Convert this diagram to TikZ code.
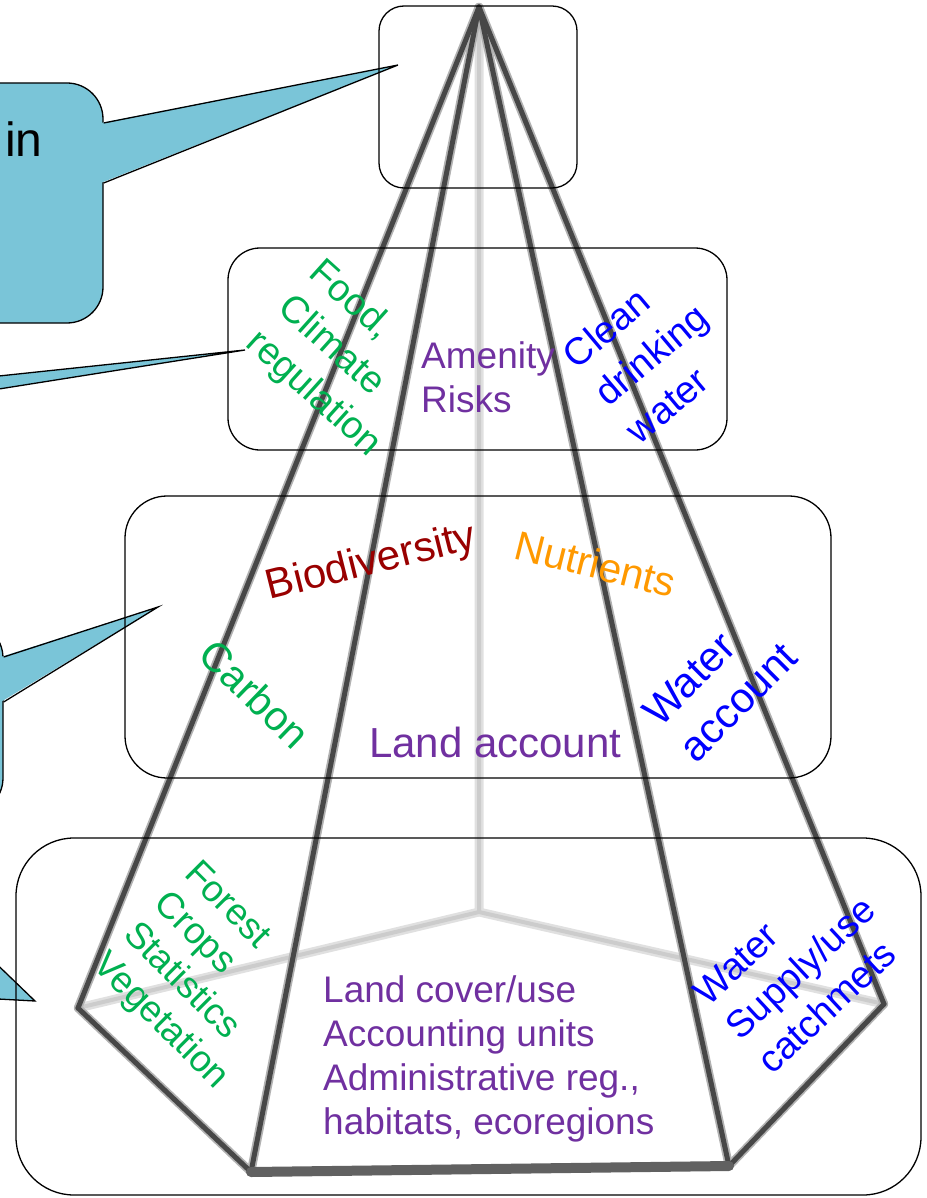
\documentclass[tikz,border=0pt]{standalone}
\usepackage{fontspec}
\setmainfont{Liberation Sans}
\usepackage{xcolor}
\definecolor{calloutblue}{HTML}{7AC5D8}
\definecolor{acgreen}{HTML}{00B050}
\definecolor{acpurple}{HTML}{7030A0}
\definecolor{acblue}{HTML}{0000FF}
\definecolor{acred}{HTML}{990000}
\definecolor{acorange}{HTML}{FF9900}
\newcommand{\acfont}[2]{\fontsize{#1}{#2}\selectfont}

\begin{document}
\begin{tikzpicture}[x=1pt, y=-1pt,
    levelbox/.style={draw=black, line width=1.3pt, rounded corners=#1, inner sep=0pt},
    calloutbox/.style={draw=black, fill=calloutblue, line width=1.3pt, rounded corners=36pt, inner sep=0pt},
    calloutedge/.style={draw=black, line width=1.3pt},
    pyrhalo/.style={line width=8.5pt, draw=black!30, line cap=round},
    pyredge/.style={line width=5pt, draw=black!72, line cap=round},
    pyrhidden/.style={line width=9pt, draw=black!12},
    pyrhiddencore/.style={line width=4pt, draw=black!20},
    lbl/.style={font=\acfont{36}{44}, inner sep=0pt, align=left}]
    \useasboundingbox (0,0) rectangle (926,1198);
    \clip (0,0) rectangle (926,1198);

    % pyramid
    \coordinate (apex) at (479,7);
    \coordinate (baseL) at (78,1008);
    \coordinate (baseFL) at (251,1172);
    \coordinate (baseFR) at (729,1166);
    \coordinate (baseR) at (884,1004);
    \coordinate (baseB) at (479,912);

    \draw[pyrhidden] (apex) -- (baseB) (baseL) -- (baseB) -- (baseR);
    \draw[pyrhiddencore] (apex) -- (baseB) (baseL) -- (baseB) -- (baseR);
    \foreach \v in {baseL, baseFL, baseFR, baseR}
        \draw[pyrhalo] (apex) -- (\v);
    \draw[pyrhalo] (baseL) -- (baseFL) -- (baseFR) -- (baseR);
    \foreach \v in {baseL, baseFL, baseFR, baseR}
        \draw[pyredge] (apex) -- (\v);
    \draw[pyredge] (baseL) -- (baseFL) (baseFR) -- (baseR);
    \draw[pyredge, line width=10pt, draw=black!62] (baseFL) -- (baseFR);

    % callouts
    \coordinate (tipA) at (398,65);
    \coordinate (tipB) at (245,350);
    \coordinate (tipC) at (158,607);
    \coordinate (tipD) at (35,1001);

    \node[calloutbox, minimum width=163pt, minimum height=240pt] (calloutA) at (21.5,203) {};
    \fill[calloutblue] ([xshift=-3pt, yshift=80pt]calloutA.east) -- (tipA) -- ([xshift=-3pt, yshift=20pt]calloutA.east) -- cycle;
    \draw[calloutedge] ([yshift=80pt]calloutA.east) -- (tipA) -- ([yshift=20pt]calloutA.east);

    \fill[calloutblue] (-20,378) -- (tipB) -- (-20,392) -- cycle;
    \draw[calloutedge] (-20,378) -- (tipB) -- (-20,392);

    \node[calloutbox, minimum width=203pt, minimum height=192pt] (calloutC) at (-98.5,718) {};
    \fill[calloutblue] ([xshift=-3pt, yshift=61pt]calloutC.east) -- (tipC) -- ([xshift=-3pt, yshift=16pt]calloutC.east) -- cycle;
    \draw[calloutedge] ([yshift=61pt]calloutC.east) -- (tipC) -- ([yshift=16pt]calloutC.east);

    \fill[calloutblue] (-20,948) -- (tipD) -- (-20,998) -- cycle;
    \draw[calloutedge] (-20,948) -- (tipD) -- (-20,998);

    \node[font=\acfont{48}{56}, inner sep=0pt, anchor=base west] (intext) at (5,157) {in};

    % levels
    \node[levelbox=25pt, minimum width=198pt, minimum height=182pt] (levelA) at (478,97) {};
    \node[levelbox=32pt, minimum width=499pt, minimum height=202pt] (levelB) at (477.5,349) {};
    \node[levelbox=42pt, minimum width=706pt, minimum height=282pt] (levelC) at (478,637) {};
    \node[levelbox=58pt, minimum width=905pt, minimum height=357pt] (levelD) at (468.5,1016.5) {};

    % level B
    \node[lbl, font=\acfont{38}{47}, text=acgreen, rotate=-42, anchor=north west] (food) at (326,255) {Food,\\Climate\\regulation};
    \node[lbl, font=\acfont{37}{44}, text=acpurple, anchor=north west] (amenity) at (421,341) {Amenity\\Risks};
    \node[lbl, font=\acfont{38}{49}, text=acblue, rotate=40, anchor=north west] (clean) at (559,349) {Clean\\drinking\\water};

    % level C
    \node[font=\acfont{42}{50}, text=acred, rotate=14, anchor=base, inner sep=0pt] (biodiv) at (374,574) {Biodiversity};
    \node[font=\acfont{41}{49}, text=acorange, rotate=-14, anchor=base, inner sep=0pt] (nutrients) at (592,578) {Nutrients};
    \node[font=\acfont{41}{48}, text=acgreen, rotate=-44, inner sep=0pt] (carbon) at (255,694) {Carbon};
    \node[font=\acfont{42}{51}, text=acblue, rotate=45, align=left, inner sep=0pt] (wateracc) at (720,684) {Water\\account};
    \node[font=\acfont{42}{50}, text=acpurple, anchor=base west, inner sep=0pt] (landacc) at (369,757) {Land account};

    % level D
    \node[lbl, font=\acfont{37}{43}, text=acgreen, rotate=-45, anchor=north west] (forest) at (201,857) {Forest\\Crops\\Statistics\\Vegetation};
    \node[lbl, font=\acfont{37}{44}, text=acpurple, anchor=north west] (landcover) at (323,975) {Land cover/use\\Accounting units\\Administrative reg.,\\habitats, ecoregions};
    \node[lbl, font=\acfont{38}{47}, text=acblue, rotate=43, anchor=north west] (watersup) at (690,988) {Water\\Supply/use\\catchmets};
\end{tikzpicture}
\end{document}
